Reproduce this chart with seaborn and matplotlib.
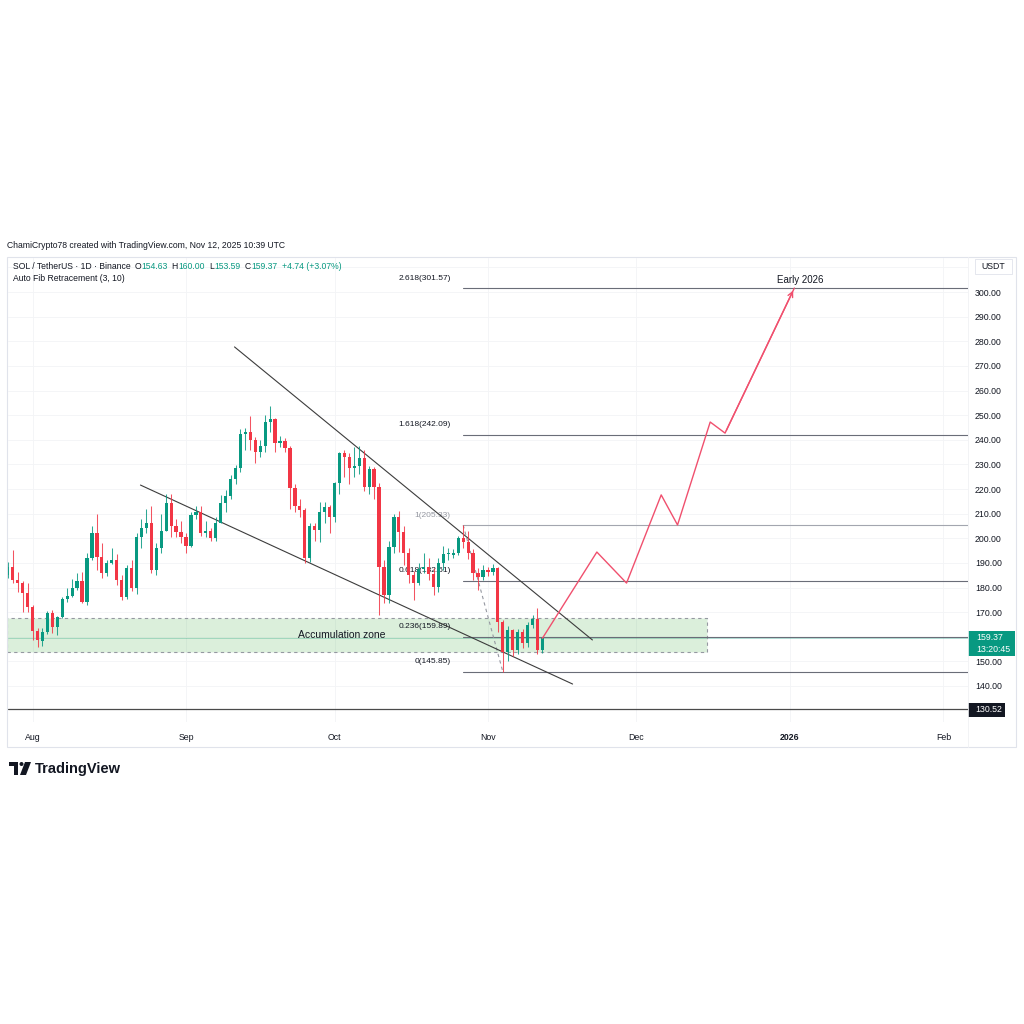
import numpy as np
import pandas as pd
import seaborn as sns
import matplotlib.pyplot as plt
import matplotlib.dates as mdates
from matplotlib.patches import Rectangle, Circle, Polygon

# daily SOL/USDT candles, first one is 2025-07-27
start = "2025-07-27"
opens = [185.1, 188.3, 183.0, 181.8, 177.8, 172.1, 162.3, 158.3, 161.9, 169.6,
         164.0, 168.0, 175.3, 176.5, 179.8, 182.6, 174.1, 192.0, 202.1, 192.5,
         186.0, 190.0, 191.0, 183.0, 176.0, 188.0, 180.0, 200.5, 204.0, 206.0,
         187.0, 196.0, 203.0, 214.3, 205.0, 202.5, 200.5, 197.0, 209.5, 210.5,
         202.0, 203.0, 200.0, 206.0, 214.3, 217.0, 224.0, 228.5, 242.4, 243.0,
         240.0, 235.0, 237.5, 247.3, 248.5, 238.7, 239.5, 236.5, 220.5, 213.0,
         211.5, 192.0, 205.0, 203.3, 210.7, 212.7, 208.6, 222.4, 234.6, 233.0,
         228.5, 229.5, 232.5, 221.0, 228.0, 220.8, 188.3, 177.0, 196.4, 208.6,
         202.5, 194.0, 185.0, 182.0, 187.5, 188.5, 185.5, 180.3, 190.0, 193.5,
         193.2, 194.2, 200.0, 198.5, 194.0, 186.0, 184.3, 187.1, 186.3, 187.9,
         166.0, 153.8, 162.7, 154.6, 161.9, 157.5, 164.8, 167.2, 154.63]
highs = [190.4, 195.2, 186.3, 182.6, 182.0, 173.0, 163.6, 163.6, 170.5, 170.9,
         168.4, 176.0, 180.0, 183.4, 185.9, 186.3, 194.0, 205.0, 210.0, 198.0,
         191.0, 196.0, 193.5, 185.0, 189.0, 191.0, 202.0, 208.0, 212.0, 213.0,
         198.0, 210.0, 218.0, 218.0, 208.0, 207.0, 202.0, 210.5, 213.0, 213.0,
         207.0, 204.0, 208.5, 217.5, 219.5, 225.5, 229.8, 244.5, 244.8, 249.5,
         241.0, 240.0, 250.0, 253.7, 249.0, 241.5, 240.8, 237.5, 222.0, 216.0,
         212.3, 206.0, 206.3, 214.7, 214.7, 213.5, 223.0, 235.0, 235.8, 234.6,
         237.0, 237.3, 236.0, 229.5, 229.0, 222.4, 191.0, 199.0, 210.0, 211.0,
         205.0, 196.0, 186.5, 190.0, 194.0, 192.0, 188.0, 192.0, 197.0, 196.0,
         195.5, 201.0, 205.33, 203.0, 195.5, 188.0, 189.0, 188.5, 189.5, 188.5,
         167.0, 164.5, 163.0, 163.0, 163.0, 166.0, 169.0, 171.5, 160.0]
lows = [184.0, 181.8, 178.2, 170.0, 170.0, 158.7, 155.8, 156.2, 161.0, 161.5,
        160.7, 167.5, 174.0, 176.0, 179.0, 173.8, 173.0, 191.0, 187.0, 184.0,
        184.5, 189.5, 181.0, 175.0, 175.5, 178.5, 177.5, 196.0, 202.0, 186.0,
        185.0, 194.0, 203.0, 200.5, 200.5, 198.0, 194.0, 196.5, 208.0, 201.0,
        200.5, 199.0, 199.0, 206.0, 210.5, 216.0, 222.0, 227.0, 236.0, 236.0,
        230.5, 233.0, 235.0, 243.0, 235.0, 237.0, 235.0, 212.0, 210.5, 208.6,
        190.0, 190.5, 199.0, 198.5, 206.0, 202.0, 206.6, 218.0, 224.8, 222.0,
        225.0, 226.0, 219.0, 218.0, 216.0, 168.8, 173.7, 173.7, 194.0, 194.5,
        189.0, 182.0, 175.0, 181.0, 186.0, 183.0, 177.0, 178.0, 187.0, 191.0,
        192.0, 193.0, 196.0, 191.5, 183.0, 179.0, 183.0, 184.5, 185.0, 162.0,
        145.85, 150.0, 152.0, 153.0, 155.5, 156.0, 163.5, 153.0, 153.59]
closes = [188.3, 183.0, 181.8, 177.8, 172.1, 162.3, 158.7, 161.9, 169.6, 164.0,
          168.0, 175.3, 176.5, 179.8, 182.6, 174.1, 192.0, 202.1, 192.5, 186.0,
          190.0, 191.0, 183.0, 176.0, 188.0, 180.0, 200.5, 204.0, 206.0, 187.0,
          196.0, 203.0, 214.3, 205.0, 202.5, 200.5, 197.0, 209.5, 210.5, 202.0,
          203.0, 200.0, 206.0, 214.3, 217.0, 224.0, 228.5, 242.4, 243.0, 240.0,
          235.0, 237.5, 247.3, 248.5, 238.7, 239.5, 236.5, 220.5, 213.0, 211.5,
          192.0, 205.0, 203.3, 210.7, 212.7, 208.6, 222.4, 234.6, 233.0, 228.5,
          229.5, 232.5, 221.0, 228.0, 220.8, 188.3, 177.0, 196.4, 208.6, 202.5,
          194.0, 185.0, 182.0, 187.5, 188.5, 185.5, 180.3, 190.0, 193.5, 194.0,
          194.2, 200.0, 198.5, 194.0, 186.0, 184.3, 187.1, 186.3, 187.9, 166.0,
          153.8, 162.7, 154.6, 161.9, 157.5, 164.8, 167.2, 154.6, 159.37]

# auto fib retracement (anchor high Oct 27, anchor low Nov 4)
fib_ratios = [0, 0.236, 0.618, 1, 1.618, 2.618]
fib_low, fib_high = 145.85, 205.33
fib_start = "2025-10-27"
fib_low_date = "2025-11-04"

# drawings (day offsets from start)
upper_days, upper_prices = [45.8, 118.1], [277.7, 158.7]
lower_days, lower_prices = [26.8, 114.1], [221.6, 140.8]
proj_days = [108, 119, 125, 132, 135.3, 141.9, 144.9, 158.9]
proj_prices = [159.37, 194.4, 181.8, 217.6, 205.4, 247.2, 242.7, 301.6]
zone_top, zone_bottom, zone_end_day = 167.6, 153.8, 141.25
support_level = 130.52
last_price = 159.37

month_ticks = ["2025-08-01", "2025-09-01", "2025-10-01", "2025-11-01",
               "2025-12-01", "2026-01-01", "2026-02-01"]
month_labels = ["Aug", "Sep", "Oct", "Nov", "Dec", "2026", "Feb"]
price_ticks = [140, 150, 160, 170, 180, 190, 200, 210, 220, 230, 240, 250,
               260, 270, 280, 290, 300, 310]

GREEN = "#089981"
RED = "#f23645"
TXT = "#131722"

sns.set_style("white")
plt.rcParams['font.family'] = ['Liberation Sans', 'DejaVu Sans']

W = 1024
def fx(px):
    return px / W
def fy(py):
    return 1 - py / W

fig = plt.figure(figsize=(10.24, 10.24), dpi=100)
ax = fig.add_axes([fx(8), fy(722), 960 / W, 464 / W])

t0 = pd.Timestamp(start)
d0 = mdates.date2num(t0)
dates = pd.date_range(start, periods=len(opens), freq="D")
x = mdates.date2num(dates)
o = np.array(opens); h = np.array(highs); l = np.array(lows); c = np.array(closes)
col = [GREEN if cc >= oo else RED for oo, cc in zip(o, c)]

# candles
ax.vlines(x, l, h, colors=col, lw=0.75, alpha=0.85, zorder=4)
body = np.maximum(np.abs(c - o), 0.5)
ax.bar(x, body, bottom=np.minimum(o, c), width=0.66, color=col, lw=0, zorder=5)

# accumulation zone
ax.add_patch(Rectangle((d0 - 0.2, zone_bottom), zone_end_day + 0.2, zone_top - zone_bottom,
                       facecolor=(0.30, 0.69, 0.31, 0.2), edgecolor="#9598a1",
                       lw=0.8, ls=(0, (3, 3)), zorder=2))
ax.text(d0 + 67.5, (zone_top + zone_bottom) / 2, "Accumulation zone", fontsize=7.5,
        color=TXT, ha="center", va="center", zorder=3)

# last price line
ax.axhline(last_price, color=GREEN, lw=0.6, alpha=0.35, zorder=1)

# fib levels
fs = mdates.date2num(pd.Timestamp(fib_start))
for r in fib_ratios:
    lvl = fib_low + r * (fib_high - fib_low)
    lc = "#a3a6af" if r == 1 else "#6a6d78"
    tc = "#9598a1" if r == 1 else TXT
    ax.plot([fs, d0 + 200], [lvl, lvl], color=lc, lw=0.8, zorder=3)
    lab = f"{r:g}({lvl:.2f})"
    ax.text(fs - 2.5, lvl + 4.1, lab, fontsize=6, color=tc, ha="right",
            va="center", zorder=3)
ax.plot([fs, mdates.date2num(pd.Timestamp(fib_low_date))], [fib_high, fib_low],
        color="#9598a1", lw=0.8, ls=(0, (3, 3)), zorder=3)

# support line
ax.axhline(support_level, color="#4a4a4a", lw=0.9, zorder=3)

# wedge lines
for dd, pp in [(upper_days, upper_prices), (lower_days, lower_prices)]:
    tl = pd.DataFrame({"x": [d0 + v for v in dd], "y": pp})
    sns.lineplot(data=tl, x="x", y="y", ax=ax, color="#3c3c3c", lw=0.8, zorder=3)

# projected path
pj = pd.DataFrame({"x": [d0 + v for v in proj_days], "y": proj_prices})
sns.lineplot(data=pj, x="x", y="y", ax=ax, sort=False, color="#f0506e", lw=1.0, zorder=6)
ax.annotate("", xy=(pj.x.iloc[-1], pj.y.iloc[-1]), xytext=(pj.x.iloc[-2], pj.y.iloc[-2]),
            arrowprops=dict(arrowstyle="->", color="#f0506e", lw=1.0, mutation_scale=9),
            zorder=6)
ax.text(pj.x.iloc[-1] + 1.2, 304.8, "Early 2026", fontsize=7, color=TXT,
        ha="center", va="center")

# axes, ticks, grid
ax.set_xlim(d0 + 0.04, d0 + 193.98)
ax.set_ylim(125.38, 313.81)
ax.set_xlabel(""); ax.set_ylabel("")
for s in ax.spines.values():
    s.set_visible(False)
ax.set_xticks(mdates.date2num(pd.to_datetime(month_ticks)))
ax.set_xticklabels(month_labels)
ax.set_yticks(price_ticks)
ax.set_yticklabels(["" if v in (160, 310) else f"{v:.2f}" for v in price_ticks])
ax.yaxis.tick_right()
ax.tick_params(axis="y", length=0, pad=5, labelsize=6.3, labelcolor=TXT)
ax.tick_params(axis="x", length=0, pad=8, labelsize=6.3, labelcolor=TXT)
for tl in ax.get_xticklabels():
    if tl.get_text() == "2026":
        tl.set_fontweight("bold")
ax.grid(True, color="#f3f4f6", lw=0.6, zorder=0)
ax.set_axisbelow(True)

# panel frame
fig.patches.append(Rectangle((fx(7), fy(747)), 1009 / W, 490 / W, transform=fig.transFigure,
                             fill=False, edgecolor="#e0e3eb", lw=0.8))
fig.add_artist(plt.Line2D([fx(968), fx(968)], [fy(257), fy(747)], color="#f0f1f4", lw=0.6))

# price labels on scale
fig.patches.append(Rectangle((fx(968), fy(656)), 47 / W, 25 / W, transform=fig.transFigure,
                             facecolor=GREEN, edgecolor="none"))
fig.text(fx(976), fy(637.5), "159.37", fontsize=6.3, color="white", va="center")
fig.text(fx(976), fy(649.5), "13:20:45", fontsize=6.3, color="white", va="center")
fig.patches.append(Rectangle((fx(968), fy(717)), 37 / W, 14 / W, transform=fig.transFigure,
                             facecolor=TXT, edgecolor="none"))
fig.text(fx(975), fy(710), "130.52", fontsize=6.3, color="white", va="center")
fig.patches.append(Rectangle((fx(975), fy(274)), 37 / W, 15 / W, transform=fig.transFigure,
                             facecolor="white", edgecolor="#e0e3eb", lw=0.6))
fig.text(fx(993.5), fy(266.5), "USDT", fontsize=6.3, color=TXT, ha="center", va="center")

# header texts
fig.text(fx(7), fy(246), "ChamiCrypto78 created with TradingView.com, Nov 12, 2025 10:39 UTC",
         fontsize=6.2, color=TXT, va="center")
fig.text(fx(13), fy(266.5), "SOL / TetherUS \u00b7 1D \u00b7 Binance", fontsize=6.2,
         color=TXT, va="center")
for px, s, cc in [(134.5, "O", TXT), (141.5, "154.63", GREEN), (171.5, "H", TXT),
                  (178.3, "160.00", GREEN), (209, "L", TXT), (214.2, "153.59", GREEN),
                  (244.5, "C", TXT), (251.2, "159.37", GREEN), (282, "+4.74 (+3.07%)", GREEN)]:
    fig.text(fx(px), fy(266.5), s, fontsize=6.2, color=cc, va="center")
fig.text(fx(13), fy(278.5), "Auto Fib Retracement (3, 10)", fontsize=6.2, color=TXT, va="center")

# TradingView logo
fig.patches.append(Rectangle((fx(9), fy(766)), 9 / W, 4 / W, transform=fig.transFigure,
                             facecolor=TXT, edgecolor="none"))
fig.patches.append(Rectangle((fx(14), fy(775)), 4 / W, 13 / W, transform=fig.transFigure,
                             facecolor=TXT, edgecolor="none"))
fig.patches.append(Circle((fx(21.5), fy(764)), 2 / W, transform=fig.transFigure,
                          facecolor=TXT, edgecolor="none"))
fig.patches.append(Polygon([(fx(25), fy(762)), (fx(31), fy(762)), (fx(26), fy(775)),
                            (fx(20), fy(775))], closed=True, transform=fig.transFigure,
                           facecolor=TXT, edgecolor="none"))
fig.text(fx(35), fy(768.5), "TradingView", fontsize=10.5, fontweight="bold",
         color=TXT, va="center")

fig.savefig("out.png", dpi=100, facecolor="white")
